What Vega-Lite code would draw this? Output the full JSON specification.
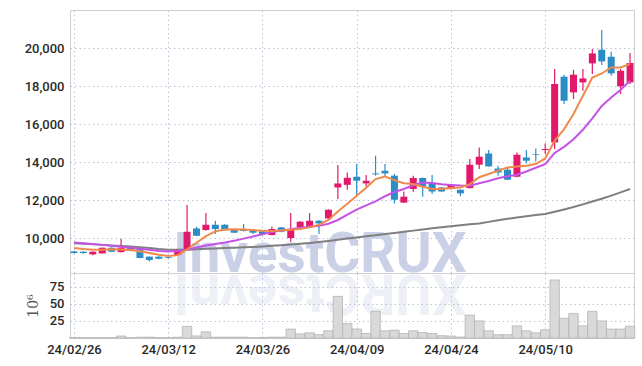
{
  "$schema": "https://vega.github.io/schema/vega-lite/v6.json",
  "background": "white",
  "padding": {"left": 23, "top": 9, "right": 8, "bottom": 8},
  "config": {
    "view": {"stroke": "#cfcfcf"},
    "axis": {
      "gridColor": "#bcc2da",
      "gridDash": [1.5, 3],
      "gridWidth": 1,
      "labelFont": "Roboto",
      "labelFontSize": 13,
      "labelFontWeight": 500,
      "labelColor": "#2a2a2a",
      "labelOverlap": false,
      "ticks": false,
      "domain": false,
      "minExtent": 0
    }
  },
  "data": {"values": [
    {"d":"24/02/26","o":9295,"h":9320,"l":9190,"c":9210,"v":0.5,"m5":9475,"m20":9770,"m60":9730},
    {"d":"24/02/27","o":9280,"h":9300,"l":9170,"c":9210,"v":0.5,"m5":9420,"m20":9730,"m60":9700},
    {"d":"24/02/28","o":9140,"h":9290,"l":9100,"c":9280,"v":0.5,"m5":9385,"m20":9690,"m60":9670},
    {"d":"24/02/29","o":9190,"h":9500,"l":9180,"c":9490,"v":0.5,"m5":9390,"m20":9640,"m60":9640},
    {"d":"24/03/04","o":9490,"h":9520,"l":9260,"c":9280,"v":0.5,"m5":9410,"m20":9590,"m60":9610},
    {"d":"24/03/05","o":9260,"h":9950,"l":9240,"c":9490,"v":2.9,"m5":9400,"m20":9540,"m60":9580},
    {"d":"24/03/06","o":9490,"h":9510,"l":9300,"c":9320,"v":0.5,"m5":9370,"m20":9490,"m60":9550},
    {"d":"24/03/07","o":9450,"h":9470,"l":8940,"c":8950,"v":1.2,"m5":9300,"m20":9440,"m60":9510},
    {"d":"24/03/08","o":9020,"h":9030,"l":8770,"c":8840,"v":1.2,"m5":9210,"m20":9380,"m60":9470},
    {"d":"24/03/11","o":9020,"h":9040,"l":8890,"c":8910,"v":0.5,"m5":9120,"m20":9320,"m60":9420},
    {"d":"24/03/12","o":9000,"h":9030,"l":8920,"c":8960,"v":0.5,"m5":9060,"m20":9290,"m60":9390},
    {"d":"24/03/13","o":9105,"h":9400,"l":9050,"c":9370,"v":1.2,"m5":9100,"m20":9320,"m60":9380},
    {"d":"24/03/14","o":9370,"h":11740,"l":9340,"c":10330,"v":17,"m5":9400,"m20":9390,"m60":9390},
    {"d":"24/03/15","o":10505,"h":10595,"l":10100,"c":10120,"v":3,"m5":9750,"m20":9500,"m60":9410},
    {"d":"24/03/18","o":10420,"h":11315,"l":10400,"c":10700,"v":9,"m5":10100,"m20":9610,"m60":9430},
    {"d":"24/03/19","o":10700,"h":10910,"l":10210,"c":10470,"v":1.2,"m5":10350,"m20":9690,"m60":9450},
    {"d":"24/03/20","o":10700,"h":10720,"l":10380,"c":10420,"v":1.2,"m5":10450,"m20":9760,"m60":9470},
    {"d":"24/03/21","o":10420,"h":10440,"l":10260,"c":10280,"v":1.2,"m5":10460,"m20":9860,"m60":9490},
    {"d":"24/03/22","o":10440,"h":10740,"l":10350,"c":10370,"v":1.2,"m5":10450,"m20":9970,"m60":9510},
    {"d":"24/03/25","o":10420,"h":10440,"l":10210,"c":10280,"v":0.5,"m5":10420,"m20":10080,"m60":9530},
    {"d":"24/03/26","o":10350,"h":10370,"l":10190,"c":10210,"v":0.8,"m5":10380,"m20":10200,"m60":9560},
    {"d":"24/03/27","o":10160,"h":10610,"l":10140,"c":10475,"v":1.2,"m5":10370,"m20":10320,"m60":9590},
    {"d":"24/03/28","o":10560,"h":10580,"l":10310,"c":10330,"v":1.2,"m5":10400,"m20":10400,"m60":9620},
    {"d":"24/03/29","o":10000,"h":11315,"l":9805,"c":10475,"v":13,"m5":10430,"m20":10460,"m60":9660},
    {"d":"24/04/01","o":10560,"h":10880,"l":10540,"c":10860,"v":6,"m5":10470,"m20":10540,"m60":9700},
    {"d":"24/04/02","o":10595,"h":11315,"l":10570,"c":10910,"v":7.6,"m5":10560,"m20":10590,"m60":9740},
    {"d":"24/04/03","o":10910,"h":10930,"l":10210,"c":10770,"v":4.8,"m5":10700,"m20":10640,"m60":9790},
    {"d":"24/04/04","o":11030,"h":11510,"l":11010,"c":11490,"v":10.5,"m5":10950,"m20":10750,"m60":9850},
    {"d":"24/04/05","o":12660,"h":13840,"l":12050,"c":12870,"v":60.8,"m5":11400,"m20":10950,"m60":9910},
    {"d":"24/04/08","o":12800,"h":13450,"l":12540,"c":13170,"v":21,"m5":11800,"m20":11230,"m60":9970},
    {"d":"24/04/09","o":13225,"h":13890,"l":12175,"c":13015,"v":13,"m5":12220,"m20":11500,"m60":10030},
    {"d":"24/04/11","o":12875,"h":13315,"l":12700,"c":13015,"v":6.6,"m5":12650,"m20":11720,"m60":10090},
    {"d":"24/04/12","o":13400,"h":14330,"l":13280,"c":13350,"v":39,"m5":13100,"m20":11930,"m60":10150},
    {"d":"24/04/15","o":13540,"h":13890,"l":13225,"c":13400,"v":10.5,"m5":13230,"m20":12200,"m60":10210},
    {"d":"24/04/16","o":13280,"h":13370,"l":11820,"c":12015,"v":11.5,"m5":13050,"m20":12420,"m60":10270},
    {"d":"24/04/17","o":11865,"h":12450,"l":11840,"c":12175,"v":6.6,"m5":12880,"m20":12580,"m60":10330},
    {"d":"24/04/18","o":12580,"h":13280,"l":12440,"c":13160,"v":10.5,"m5":12840,"m20":12780,"m60":10390},
    {"d":"24/04/19","o":13160,"h":13180,"l":12175,"c":12715,"v":8,"m5":12700,"m20":12920,"m60":10450},
    {"d":"24/04/22","o":12910,"h":13315,"l":12315,"c":12450,"v":6.6,"m5":12580,"m20":12890,"m60":10510},
    {"d":"24/04/23","o":12660,"h":12680,"l":12430,"c":12450,"v":3.3,"m5":12580,"m20":12830,"m60":10570},
    {"d":"24/04/24","o":12580,"h":12810,"l":12560,"c":12790,"v":2.9,"m5":12630,"m20":12790,"m60":10620},
    {"d":"24/04/25","o":12540,"h":12560,"l":12200,"c":12350,"v":1.4,"m5":12660,"m20":12760,"m60":10670},
    {"d":"24/04/26","o":12630,"h":14160,"l":12610,"c":13860,"v":33.5,"m5":12840,"m20":12750,"m60":10720},
    {"d":"24/04/29","o":13860,"h":14770,"l":13630,"c":14280,"v":24.9,"m5":13200,"m20":12880,"m60":10770},
    {"d":"24/04/30","o":14450,"h":14630,"l":13750,"c":13770,"v":10.5,"m5":13370,"m20":13000,"m60":10850},
    {"d":"24/05/02","o":13660,"h":13800,"l":13280,"c":13450,"v":4.8,"m5":13550,"m20":13150,"m60":10930},
    {"d":"24/05/03","o":13595,"h":13720,"l":13050,"c":13070,"v":4.8,"m5":13715,"m20":13250,"m60":11010},
    {"d":"24/05/07","o":13225,"h":14505,"l":13200,"c":14385,"v":17.7,"m5":13760,"m20":13330,"m60":11080},
    {"d":"24/05/08","o":14240,"h":14630,"l":13930,"c":14070,"v":10.5,"m5":13800,"m20":13500,"m60":11150},
    {"d":"24/05/09","o":14420,"h":14715,"l":14030,"c":14385,"v":7.6,"m5":13895,"m20":13700,"m60":11210},
    {"d":"24/05/10","o":14630,"h":14980,"l":14420,"c":14685,"v":11.9,"m5":14190,"m20":13890,"m60":11270},
    {"d":"24/05/13","o":15030,"h":18895,"l":14685,"c":18105,"v":84.8,"m5":15120,"m20":14480,"m60":11380},
    {"d":"24/05/14","o":18490,"h":18595,"l":17050,"c":17225,"v":28.7,"m5":15735,"m20":14800,"m60":11500},
    {"d":"24/05/16","o":17665,"h":18860,"l":17315,"c":18595,"v":35.9,"m5":16525,"m20":15200,"m60":11630},
    {"d":"24/05/17","o":18190,"h":18895,"l":17750,"c":18400,"v":17.7,"m5":17490,"m20":15700,"m60":11770},
    {"d":"24/05/20","o":19190,"h":19950,"l":18630,"c":19715,"v":39,"m5":18450,"m20":16300,"m60":11920},
    {"d":"24/05/21","o":19910,"h":20950,"l":19100,"c":19295,"v":24.9,"m5":18660,"m20":16950,"m60":12070},
    {"d":"24/05/22","o":19540,"h":19805,"l":18540,"c":18665,"v":13,"m5":18980,"m20":17400,"m60":12230},
    {"d":"24/05/23","o":17980,"h":18900,"l":17580,"c":18805,"v":13,"m5":18980,"m20":17800,"m60":12400},
    {"d":"24/05/24","o":18190,"h":19735,"l":18100,"c":19210,"v":17.2,"m5":19160,"m20":18280,"m60":12580}
  ]},
  "spacing": 0,
  "bounds": "flush",
  "vconcat": [
    {
      "width": 564,
      "height": 263,
      "encoding": {
        "x": {"field": "d", "type": "ordinal", "scale": {"type": "point", "padding": 0.42},
              "axis": {"labels": false, "title": null, "grid": true,
                       "values": ["24/02/26","24/03/12","24/03/26","24/04/09","24/04/24","24/05/10"]}}
      },
      "layer": [
        {
          "data": {"values": [{}]},
          "mark": {"type": "text", "text": "InvestCRUX", "font": "Roboto", "fontSize": 55, "fontWeight": "bold",
                   "color": "#cad0e6", "align": "center", "baseline": "alphabetic", "dx": 1},
          "encoding": {"x": {"datum": "24/04/03"}, "y": {"datum": 8230}}
        },
        {
          "data": {"values": [{}]},
          "mark": {"type": "text", "text": "XURCtsevnI", "font": "Roboto", "fontSize": 55, "fontWeight": "bold",
                   "color": "#cad0e6", "opacity": 0.3, "angle": 180, "align": "center", "baseline": "alphabetic", "dx": -1},
          "encoding": {"x": {"datum": "24/04/03"}, "y": {"datum": 8070}}
        },
        {
          "mark": {"type": "line", "color": "#7f7f7f", "strokeWidth": 2},
          "encoding": {"y": {"field": "m60", "type": "quantitative"}}
        },
        {
          "mark": {"type": "rule", "strokeWidth": 1.2},
          "encoding": {
            "y": {"field": "l", "type": "quantitative"},
            "y2": {"field": "h"},
            "color": {"condition": {"test": "datum.c >= datum.o", "value": "#e2196a"}, "value": "#2b8dc6"}
          }
        },
        {
          "mark": {"type": "bar", "size": 7},
          "encoding": {
            "y": {"field": "o", "type": "quantitative"},
            "y2": {"field": "c"},
            "color": {"condition": {"test": "datum.c >= datum.o", "value": "#e2196a"}, "value": "#2b8dc6"}
          }
        },
        {
          "mark": {"type": "line", "color": "#c452e6", "strokeWidth": 2},
          "encoding": {"y": {"field": "m20", "type": "quantitative"}}
        },
        {
          "mark": {"type": "line", "color": "#f0894c", "strokeWidth": 2},
          "encoding": {
            "y": {"field": "m5", "type": "quantitative",
                  "scale": {"domain": [8160, 22000], "nice": false, "zero": false},
                  "axis": {"title": null, "grid": true, "labelPadding": 6, "format": ",d",
                           "values": [10000, 12000, 14000, 16000, 18000, 20000]}}
          }
        }
      ],
      "resolve": {"scale": {"y": "shared"}}
    },
    {
      "width": 564,
      "height": 65,
      "mark": {"type": "bar", "size": 9.4, "fill": "#d9d9d9", "stroke": "#b4b4b4", "strokeWidth": 0.8},
      "encoding": {
        "x": {"field": "d", "type": "ordinal", "scale": {"type": "point", "padding": 0.42},
              "axis": {"title": null, "grid": true, "labelAngle": 0, "labelPadding": 5,
                       "values": ["24/02/26","24/03/12","24/03/26","24/04/09","24/04/24","24/05/10"]}},
        "y": {"field": "v", "type": "quantitative",
              "scale": {"domain": [0, 95], "nice": false},
              "axis": {"title": "10⁶", "titleFont": "DejaVu Serif", "titleFontSize": 14, "titleFontWeight": "normal",
                       "titleColor": "#555", "titlePadding": 9, "labelPadding": 6, "grid": true,
                       "values": [25, 50, 75]}}
      }
    }
  ]
}
